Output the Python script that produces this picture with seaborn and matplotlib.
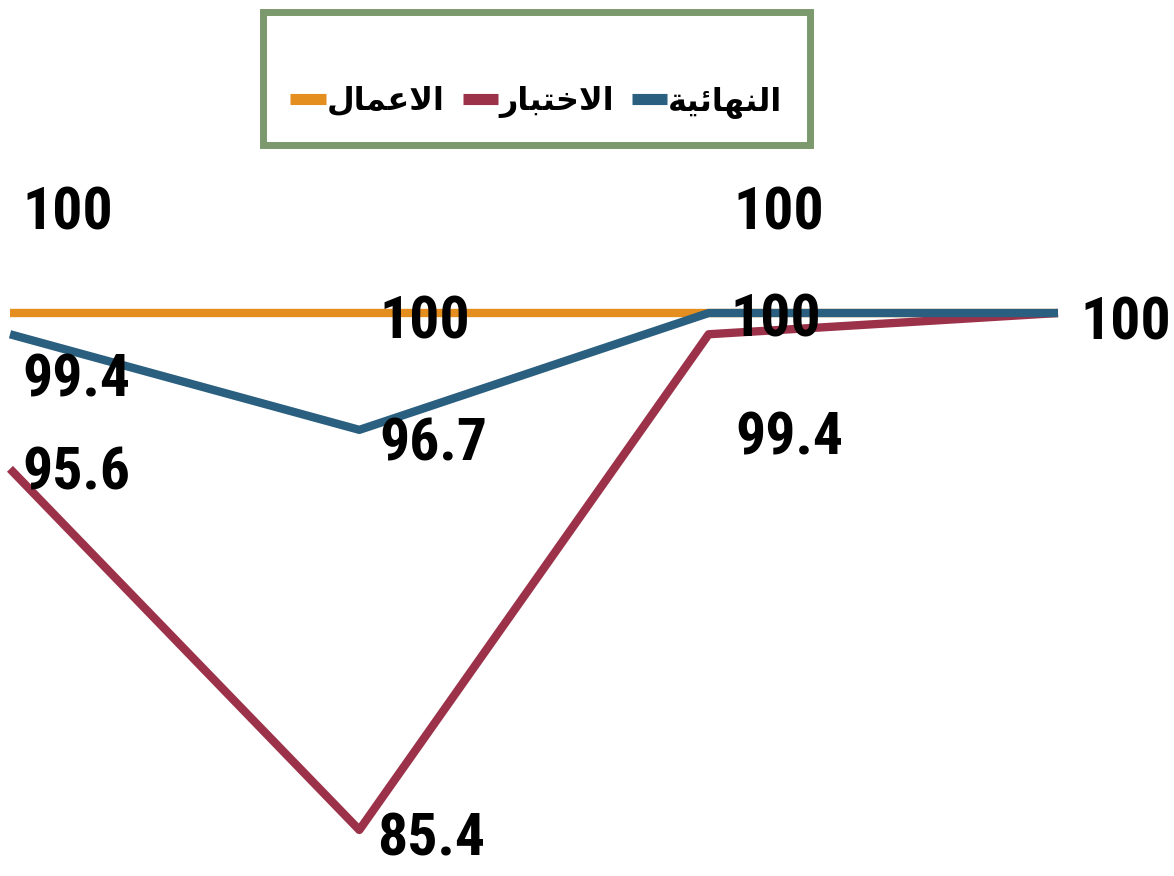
import matplotlib
matplotlib.use("Agg")
import matplotlib.pyplot as plt
from matplotlib import font_manager
import seaborn as sns
import pandas as pd

sns.set_theme(style="white")

# series names in arabic (presentation forms, visual order so they render shaped)
name_work = "\uFEDD\uFE8E\uFEE4\uFECB\uFEFB\uFE8D"          # الاعمال
name_exam = "\uFEAD\uFE8E\uFE92\uFE98\uFEA7\uFEFB\uFE8D"    # الاختبار
name_final = "\uFE94\uFEF4\uFE8B\uFE8E\uFEEC\uFEE8\uFEDF\uFE8D"  # النهائية

positions = [0, 1, 2, 3]
work_vals = [100, 100, 100, 100]
exam_vals = [95.6, 85.4, 99.4, 100]
final_vals = [99.4, 96.7, 100, 100]

colors = {name_work: "#E38E1F", name_exam: "#9C3249", name_final: "#2B5F7F"}

df = pd.concat([
    pd.DataFrame({"x": positions, "value": work_vals, "series": name_work}),
    pd.DataFrame({"x": positions, "value": exam_vals, "series": name_exam}),
    pd.DataFrame({"x": positions, "value": final_vals, "series": name_final}),
])

# pick a narrow bold face if one is around
installed = {f.name for f in font_manager.fontManager.ttflist}
narrow = "DejaVu Sans"
for cand in ["Liberation Sans Narrow", "DejaVu Sans Condensed", "Roboto Condensed", "Open Sans Condensed"]:
    if cand in installed:
        narrow = cand
        break

fig = plt.figure(figsize=(11.74, 8.76), dpi=100)
ax = fig.add_axes([0, 0, 1, 1])
sns.lineplot(data=df, x="x", y="value", hue="series", palette=colors,
             linewidth=6, ax=ax, legend=True, solid_capstyle="butt")

ax.set_xlim(-0.0286, 3.332)
ax.set_ylim(84.10, 108.84)
ax.axis("off")

# value labels: (series values, point index, offset in pixels)
num_size = 43 if narrow != "DejaVu Sans" else 37
num_font = dict(family=narrow, weight="bold", size=num_size, color="black")
label_spots = [
    (work_vals, 0, (12, 100)), (work_vals, 1, (20, -9)), (work_vals, 2, (25, 100)),
    (final_vals, 0, (12, -46)), (final_vals, 1, (20, -15)), (final_vals, 2, (22, -7)),
    (final_vals, 3, (22, -10)),
    (exam_vals, 0, (12, -5)), (exam_vals, 1, (18, -10)), (exam_vals, 2, (27, -104)),
]
for vals, i, off in label_spots:
    v = vals[i]
    txt = f"{v:g}"
    ax.annotate(txt, (positions[i], v), xytext=off, textcoords="offset pixels",
                ha="left", va="center", **num_font)

handles, labels = ax.get_legend_handles_labels()
leg = ax.legend(handles, labels, loc="center", bbox_to_anchor=(0.457, 0.910),
                bbox_transform=fig.transFigure, ncol=3, frameon=True,
                prop=dict(family="DejaVu Sans", weight="bold", size=23),
                handlelength=1.1, handletextpad=0.05, columnspacing=0.55,
                borderpad=0.85, fancybox=False, labelcolor="black",
                title=" ", title_fontsize=23)
leg.get_frame().set_edgecolor("#5B7F48")
leg.get_frame().set_linewidth(5)
for h in leg.get_lines():
    h.set_linewidth(8)
    h.set_solid_capstyle("butt")

fig.savefig("out.png", dpi=100)
